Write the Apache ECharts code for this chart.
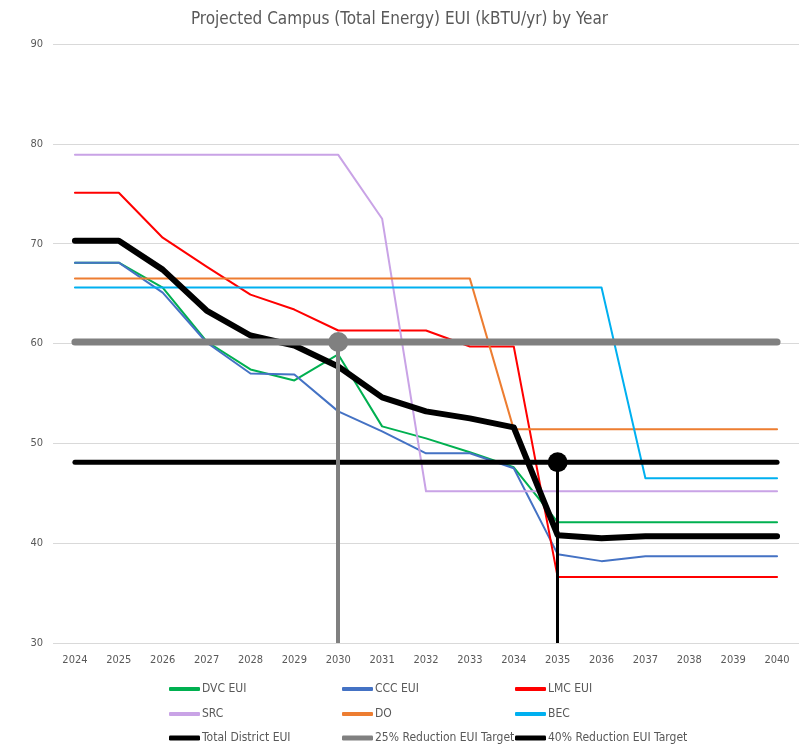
<!DOCTYPE html>
<html>
<head>
<meta charset="utf-8">
<script src="https://cdn.jsdelivr.net/npm/echarts@6/dist/echarts.min.js"></script>
<style>
  html, body { margin: 0; padding: 0; background: #fff; }
  #chart { width: 799px; height: 744px; }
</style>
</head>
<body>
<div id="chart"></div>
<script>
// data
const years = ['2024', '2025', '2026', '2027', '2028', '2029', '2030', '2031', '2032',
               '2033', '2034', '2035', '2036', '2037', '2038', '2039', '2040'];
const dvc   = [68.1, 68.1, 65.6, 60.2, 57.4, 56.3, 58.9, 51.7, 50.5, 49.1, 47.6, 42.1, 42.1, 42.1, 42.1, 42.1, 42.1];
const ccc   = [68.1, 68.1, 65.1, 60.1, 57.0, 56.9, 53.2, 51.2, 49.0, 49.0, 47.5, 38.9, 38.2, 38.7, 38.7, 38.7, 38.7];
const lmc   = [75.1, 75.1, 70.6, 67.7, 64.9, 63.4, 61.3, 61.3, 61.3, 59.7, 59.7, 36.6, 36.6, 36.6, 36.6, 36.6, 36.6];
const src   = [78.9, 78.9, 78.9, 78.9, 78.9, 78.9, 78.9, 72.5, 45.2, 45.2, 45.2, 45.2, 45.2, 45.2, 45.2, 45.2, 45.2];
const dO    = [66.5, 66.5, 66.5, 66.5, 66.5, 66.5, 66.5, 66.5, 66.5, 66.5, 51.4, 51.4, 51.4, 51.4, 51.4, 51.4, 51.4];
const bec   = [65.6, 65.6, 65.6, 65.6, 65.6, 65.6, 65.6, 65.6, 65.6, 65.6, 65.6, 65.6, 65.6, 46.5, 46.5, 46.5, 46.5];
const total = [70.3, 70.3, 67.4, 63.3, 60.8, 59.8, 57.7, 54.6, 53.2, 52.5, 51.6, 40.8, 40.5, 40.7, 40.7, 40.7, 40.7];
const target25 = [60.15, 60.15, 60.15, 60.15, 60.15, 60.15, 60.15, 60.15, 60.15, 60.15, 60.15, 60.15, 60.15, 60.15, 60.15, 60.15, 60.15];
const target40 = [48.1, 48.1, 48.1, 48.1, 48.1, 48.1, 48.1, 48.1, 48.1, 48.1, 48.1, 48.1, 48.1, 48.1, 48.1, 48.1, 48.1];
const target25Year = '2030';
const target40Year = '2035';
const yMin = 30, yMax = 90, yStep = 10;

const txt = '#595959';
const font = '"Liberation Sans Narrow", "DejaVu Sans Condensed", sans-serif';

function lineSeries(name, data, color, width) {
  return {
    name: name, type: 'line', data: data,
    symbol: 'none', smooth: false,
    lineStyle: { color: color, width: width, cap: 'round', join: 'round' },
    itemStyle: { color: color },
    emphasis: { disabled: true }
  };
}

// target line with a dot and a drop line at the target year
function targetSeries(name, data, color, width, year, dropWidth) {
  const idx = years.indexOf(year);
  const s = lineSeries(name, data.map((v, i) => i === idx ? { value: v, symbolSize: 20 } : v), color, width);
  s.symbol = 'circle';
  s.symbolSize = 0;
  s.showAllSymbol = true;
  s.markLine = {
    symbol: 'none', silent: true, animation: false,
    label: { show: false },
    lineStyle: { color: color, width: dropWidth, type: 'solid' },
    data: [[{ coord: [idx, data[idx]] }, { coord: [idx, yMin] }]]
  };
  return s;
}

const series = [
  lineSeries('DVC EUI', dvc, '#00B050', 2),
  lineSeries('CCC EUI', ccc, '#4472C4', 2),
  lineSeries('LMC EUI', lmc, '#FF0000', 2),
  lineSeries('SRC', src, '#C9A3E6', 2),
  lineSeries('DO', dO, '#ED7D31', 2),
  lineSeries('BEC', bec, '#00B0F0', 2),
  lineSeries('Total District EUI', total, '#000000', 6),
  targetSeries('25% Reduction EUI Target', target25, '#808080', 7, target25Year, 4),
  targetSeries('40% Reduction EUI Target', target40, '#000000', 5, target40Year, 3)
];

// legend: 3 columns x 3 rows, one component per entry so columns line up
const legendCols = [164, 337, 510];
const legendRows = [678, 703, 727];
const legends = series.map((s, i) => ({
  data: [s.name],
  left: legendCols[i % 3],
  top: legendRows[Math.floor(i / 3)],
  icon: 'roundRect',
  itemWidth: 31, itemHeight: i >= 6 ? 5 : 4, itemGap: 2,
  selectedMode: false,
  textStyle: { color: txt, fontSize: 12, fontFamily: font, padding: [0, 0, 0, -3] }
}));

const chart = echarts.init(document.getElementById('chart'));
chart.setOption({
  animation: false,
  backgroundColor: '#fff',
  title: {
    text: 'Projected Campus (Total Energy) EUI (kBTU/yr) by Year',
    left: 'center', top: 6,
    textStyle: { color: txt, fontSize: 17, fontWeight: 'normal', fontFamily: font }
  },
  legend: legends,
  grid: { left: 53, right: 0, top: 44, bottom: 101 },
  xAxis: {
    type: 'category', data: years, boundaryGap: true,
    axisLine: { show: false }, axisTick: { show: false },
    axisLabel: { color: txt, fontSize: 11, fontFamily: font, margin: 12 }
  },
  yAxis: {
    type: 'value', min: yMin, max: yMax, interval: yStep,
    axisLine: { show: false }, axisTick: { show: false },
    axisLabel: { color: txt, fontSize: 11, fontFamily: font, margin: 10 },
    splitLine: { lineStyle: { color: '#D9D9D9', width: 1 } }
  },
  series: series
});
</script>
</body>
</html>
